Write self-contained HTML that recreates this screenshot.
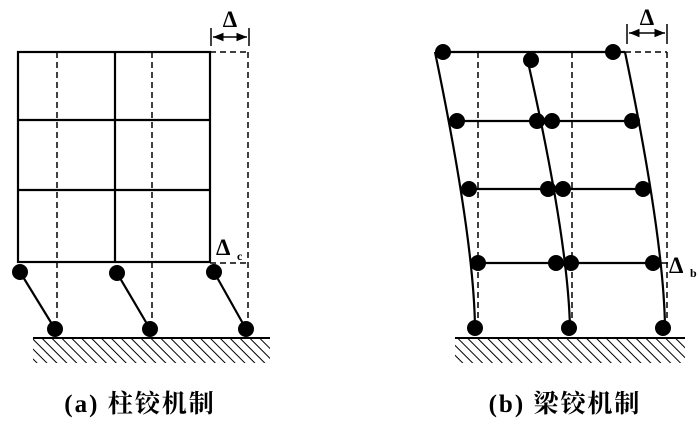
<!DOCTYPE html>
<html><head><meta charset="utf-8"><style>html,body{margin:0;padding:0;background:#fff}svg{display:block}</style></head><body>
<svg width="700" height="426" viewBox="0 0 700 426" xmlns="http://www.w3.org/2000/svg">
<defs>
<pattern id="h" width="7" height="7" patternUnits="userSpaceOnUse" patternTransform="rotate(-45)">
<line x1="0" y1="0" x2="0" y2="7" stroke="#000" stroke-width="2"/>
</pattern>
<marker id="a" viewBox="0 0 10 10" refX="10" refY="5" markerWidth="7" markerHeight="7" orient="auto-start-reverse"><path d="M0,1 L10,5 L0,9 z" fill="#000"/></marker>
</defs>
<g stroke="#000" fill="none">
<g stroke-width="2.2">
<rect x="18" y="52" width="192" height="210"/>
<line x1="115" y1="52" x2="115" y2="262"/>
<line x1="18" y1="120" x2="210" y2="120"/>
<line x1="18" y1="190" x2="210" y2="190"/>
<line x1="20" y1="272" x2="55" y2="329"/>
<line x1="117" y1="273" x2="150" y2="329"/>
<line x1="214" y1="272" x2="246" y2="329"/>
</g>
<g stroke-width="1.5" stroke-dasharray="6,4">
<line x1="57" y1="52" x2="57" y2="329"/>
<line x1="152" y1="52" x2="152" y2="329"/>
<line x1="248" y1="52" x2="248" y2="329"/>
<line x1="210" y1="52" x2="248" y2="52"/>
<line x1="210" y1="263" x2="248" y2="263"/>
</g>
<g stroke-width="1.5">
<line x1="211" y1="28" x2="211" y2="46"/>
<line x1="249" y1="28" x2="249" y2="46"/>
<line x1="213" y1="37" x2="247" y2="37" marker-start="url(#a)" marker-end="url(#a)"/>
</g>
<rect x="33" y="339" width="237" height="24" fill="url(#h)" stroke="none"/>
<line x1="33" y1="338" x2="270" y2="338" stroke-width="2"/>
<g stroke-width="2.2">
<line x1="435" y1="52" x2="625" y2="52"/>
<line x1="457" y1="121" x2="635" y2="121"/>
<line x1="469" y1="189" x2="646" y2="189"/>
<line x1="479" y1="263" x2="657" y2="263"/>
<path d="M435,52 Q474,240 475,328"/>
<path d="M528,62 Q568,240 570,328"/>
<path d="M625,52 Q664,240 665,328"/>
</g>
<g stroke-width="1.5" stroke-dasharray="6,4">
<line x1="478" y1="52" x2="478" y2="328"/>
<line x1="572" y1="52" x2="572" y2="328"/>
<line x1="667" y1="52" x2="667" y2="328"/>
<line x1="625" y1="52" x2="667" y2="52"/>
</g>
<g stroke-width="1.5">
<line x1="627" y1="24" x2="627" y2="44"/>
<line x1="667" y1="24" x2="667" y2="44"/>
<line x1="629" y1="33" x2="665" y2="33" marker-start="url(#a)" marker-end="url(#a)"/>
<line x1="660" y1="263" x2="668" y2="263"/>
</g>
<rect x="455" y="339" width="230" height="24" fill="url(#h)" stroke="none"/>
<line x1="455" y1="338" x2="685" y2="338" stroke-width="2"/>
</g>
<g fill="#000">
<circle cx="20" cy="272" r="8"/><circle cx="117" cy="273" r="8"/><circle cx="214" cy="272" r="8"/>
<circle cx="55" cy="329" r="8"/><circle cx="150" cy="329" r="8"/><circle cx="246" cy="329" r="8"/>
<circle cx="443" cy="52" r="8"/><circle cx="531" cy="60" r="8"/><circle cx="613" cy="52" r="8"/>
<circle cx="457" cy="121" r="8"/><circle cx="537" cy="121" r="8"/><circle cx="552" cy="121" r="8"/><circle cx="632" cy="121" r="8"/>
<circle cx="469" cy="189" r="8"/><circle cx="548" cy="189" r="8"/><circle cx="563" cy="189" r="8"/><circle cx="643" cy="189" r="8"/>
<circle cx="478" cy="263" r="8"/><circle cx="556" cy="263" r="8"/><circle cx="571" cy="263" r="8"/><circle cx="653" cy="263" r="8"/>
<circle cx="475" cy="328" r="8"/><circle cx="569" cy="328" r="8"/><circle cx="663" cy="328" r="8"/>
</g>
<g font-family="Liberation Serif, 'Noto Serif CJK SC', serif" font-weight="bold" fill="#000">
<text x="230" y="27" font-size="23" text-anchor="middle">Δ</text>
<text x="647" y="25" font-size="23" text-anchor="middle">Δ</text>
<text x="216" y="255" font-size="23">Δ</text><text x="237" y="260" font-size="12">c</text>
<text x="669" y="273" font-size="23">Δ</text><text x="690" y="277" font-size="12">b</text>
<text x="140" y="412" font-size="25" text-anchor="middle" letter-spacing="2">(a) 柱铰机制</text>
<text x="565" y="412" font-size="25" text-anchor="middle" letter-spacing="2">(b) 梁铰机制</text>
</g>
</svg>
</body></html>
